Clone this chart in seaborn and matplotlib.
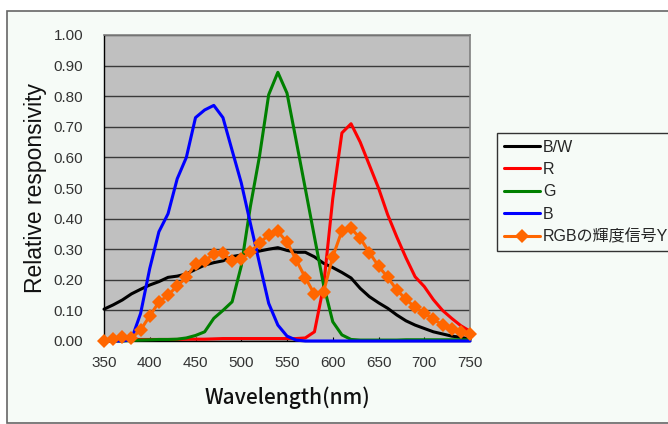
import matplotlib
matplotlib.use('Agg')
import matplotlib.pyplot as plt
import matplotlib.patches as mpatches
import seaborn as sns
import pandas as pd

# wavelength categories (nm)
wavelength = [350, 360, 370, 380, 390, 400, 410, 420, 430, 440,
              450, 460, 470, 480, 490, 500, 510, 520, 530, 540,
              550, 560, 570, 580, 590, 600, 610, 620, 630, 640,
              650, 660, 670, 680, 690, 700, 710, 720, 730, 740, 750]

bw = [0.104, 0.118, 0.134, 0.154, 0.169, 0.183, 0.194, 0.208, 0.212, 0.219,
      0.234, 0.248, 0.256, 0.262, 0.276, 0.281, 0.287, 0.294, 0.300, 0.305,
      0.296, 0.290, 0.290, 0.275, 0.254, 0.240, 0.224, 0.206, 0.172, 0.145,
      0.125, 0.107, 0.085, 0.066, 0.052, 0.041, 0.030, 0.023, 0.016, 0.012, 0.006]

red = [0.004, 0.005, 0.005, 0.005, 0.005, 0.005, 0.005, 0.005, 0.005, 0.006,
       0.006, 0.006, 0.007, 0.008, 0.008, 0.008, 0.008, 0.008, 0.008, 0.008,
       0.008, 0.008, 0.010, 0.030, 0.180, 0.465, 0.680, 0.710, 0.650, 0.575,
       0.500, 0.413, 0.340, 0.272, 0.210, 0.178, 0.135, 0.100, 0.074, 0.050, 0.032]

green = [0.000, 0.000, 0.000, 0.002, 0.003, 0.004, 0.005, 0.005, 0.006, 0.010,
         0.018, 0.030, 0.074, 0.100, 0.128, 0.245, 0.440, 0.605, 0.805, 0.878,
         0.810, 0.655, 0.498, 0.340, 0.183, 0.063, 0.020, 0.005, 0.003, 0.003,
         0.003, 0.003, 0.003, 0.004, 0.004, 0.004, 0.004, 0.004, 0.004, 0.004, 0.004]

blue = [0.000, 0.000, 0.000, 0.005, 0.090, 0.237, 0.357, 0.416, 0.530, 0.600,
        0.730, 0.755, 0.770, 0.730, 0.623, 0.517, 0.384, 0.253, 0.123, 0.052,
        0.016, 0.003, 0.000, 0.000, 0.000, 0.000, 0.000, 0.000, 0.000, 0.000,
        0.000, 0.000, 0.000, 0.000, 0.000, 0.000, 0.000, 0.000, 0.000, 0.000, 0.000]

luma = [0.000, 0.005, 0.014, 0.009, 0.036, 0.082, 0.127, 0.150, 0.180, 0.208,
        0.252, 0.262, 0.284, 0.287, 0.260, 0.267, 0.291, 0.320, 0.347, 0.358,
        0.323, 0.265, 0.207, 0.153, 0.161, 0.275, 0.360, 0.368, 0.336, 0.289,
        0.245, 0.208, 0.167, 0.136, 0.110, 0.092, 0.071, 0.052, 0.040, 0.030, 0.022]

series_names = ['B/W', 'R', 'G', 'B', 'RGBの輝度信号Y']
series_colors = ['#000000', '#ff0000', '#008000', '#0000ff', '#ff6600']

df = pd.DataFrame({'wl': wavelength, 'B/W': bw, 'R': red, 'G': green,
                   'B': blue, 'RGBの輝度信号Y': luma})

sns.set_style('white')
plt.rcParams['font.family'] = ['Liberation Sans', 'Noto Sans CJK JP', 'DejaVu Sans']

bg = '#f6fbf7'
fig = plt.figure(figsize=(6.68, 4.24), dpi=100)
fig.patch.set_facecolor('white')
# chart area frame, behind the axes
fig.patches.append(mpatches.Rectangle((7 / 668, 1 / 424), 1.0, 412 / 424,
                                      transform=fig.transFigure, facecolor=bg,
                                      edgecolor='#666666', linewidth=1.2, zorder=-5))

ax = fig.add_axes([104 / 668, 83 / 424, 366 / 668, 306 / 424])
ax.set_facecolor('#c0c0c0')

for name, col in zip(series_names, series_colors):
    if name == 'RGBの輝度信号Y':
        sns.lineplot(data=df, x='wl', y=name, ax=ax, color=col, lw=2.2,
                     marker='D', markersize=7, markeredgewidth=0, label=name,
                     clip_on=False, zorder=5)
    else:
        sns.lineplot(data=df, x='wl', y=name, ax=ax, color=col, lw=2.2,
                     label=name, clip_on=False, zorder=4)

ax.set_xlim(350, 750)
ax.set_ylim(0, 1.0)
ax.set_xticks([350, 400, 450, 500, 550, 600, 650, 700, 750])
ax.set_yticks([0.0, 0.1, 0.2, 0.3, 0.4, 0.5, 0.6, 0.7, 0.8, 0.9, 1.0])
ax.set_yticklabels([f'{v:.2f}' for v in ax.get_yticks()])
ax.yaxis.grid(True, color='#3a3a3a', lw=1.0)
ax.xaxis.grid(False)
ax.set_axisbelow(True)

ax.tick_params(axis='y', length=0, pad=15, labelsize=11, labelcolor='#333333')
ax.tick_params(axis='x', direction='in', length=3, pad=11, labelsize=11,
               labelcolor='#333333', bottom=True, color='#000000')

for s in ['top', 'right']:
    ax.spines[s].set_color('#808080')
    ax.spines[s].set_linewidth(1.2)
for s in ['left', 'bottom']:
    ax.spines[s].set_color('#000000')
    ax.spines[s].set_linewidth(1.0)

ax.set_ylabel('Relative responsivity', fontsize=16.5, color='#111111', labelpad=5)
ax.set_xlabel('Wavelength(nm)', fontsize=15, color='#111111', labelpad=12,
              family=['Noto Sans CJK JP'], weight='medium')

leg = ax.legend(loc='upper left', bbox_to_anchor=(497 / 668, 1 - 133 / 424),
                bbox_transform=fig.transFigure, fontsize=11.5, frameon=True,
                fancybox=False, edgecolor='#333333', facecolor=bg, framealpha=1,
                handlelength=2.3, handletextpad=0.15, labelspacing=0.46,
                borderpad=0.42, borderaxespad=0)
leg.get_frame().set_linewidth(1.0)

fig.savefig('out.png', dpi=100, facecolor=fig.get_facecolor())
